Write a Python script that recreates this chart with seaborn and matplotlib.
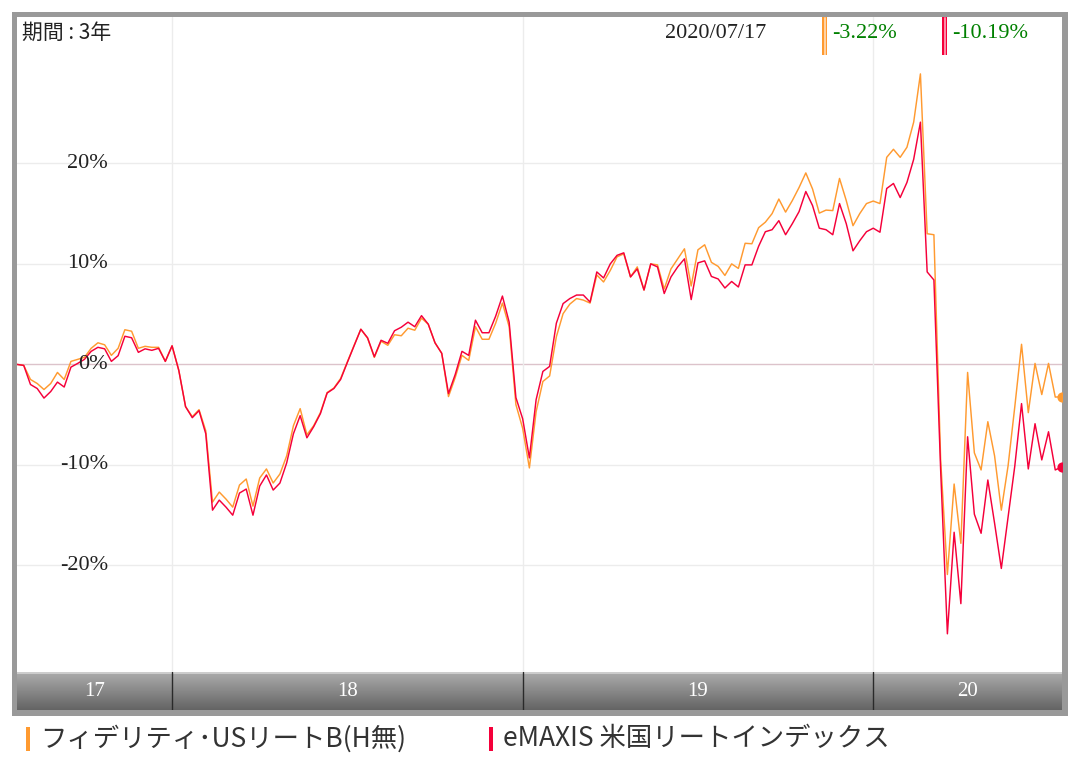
import numpy as np
import pandas as pd
import matplotlib
matplotlib.use("Agg")
import matplotlib.pyplot as plt
from matplotlib.patches import Rectangle
from matplotlib.lines import Line2D
from matplotlib.colors import LinearSegmentedColormap
from matplotlib.transforms import blended_transform_factory
import matplotlib.dates as mdates
import seaborn as sns

# ---------------- data ----------------
fidelity = [
    0.0, -0.1, -1.5, -1.9, -2.5, -1.9, -0.8, -1.5, 0.3, 0.5,
    0.7, 1.6, 2.15, 1.95, 0.9, 1.6, 3.45, 3.3, 1.6, 1.8,
    1.7, 1.7, 0.3, 1.85, -0.6, -4.2, -5.2, -4.5, -6.6, -13.7,
    -12.7, -13.4, -14.2, -12.0, -11.4, -14.1, -11.3, -10.4, -11.8, -10.9,
    -9.1, -6.1, -4.4, -7.0, -6.1, -4.8, -2.8, -2.35, -1.4, 0.25,
    1.9, 3.5, 2.6, 0.7, 2.3, 1.9, 2.95, 2.85, 3.6, 3.4,
    4.6, 4.0, 2.15, 1.1, -3.2, -1.3, 0.9, 0.4, 3.75, 2.5,
    2.5, 4.1, 6.1, 3.75, -4.0, -6.35, -10.3, -4.7, -1.7, -1.15,
    2.75, 5.05, 6.0, 6.55, 6.4, 6.1, 8.9, 8.2, 9.35, 10.7,
    11.0, 8.7, 9.7, 7.4, 10.0, 9.9, 7.5, 9.5, 10.5, 11.5,
    7.8, 11.4, 11.9, 10.15, 9.75, 8.85, 10.0, 9.55, 12.05, 12.0,
    13.6, 14.15, 15.0, 16.45, 15.15, 16.3, 17.6, 19.05, 17.45, 15.05,
    15.35, 15.3, 18.5, 16.3, 13.8, 15.0, 16.0, 16.25, 16.0, 20.6,
    21.4, 20.6, 21.6, 24.1, 28.9, 13.0, 12.9, -9.5, -20.9, -11.9,
    -17.8, -0.8, -8.8, -10.5, -5.7, -9.1, -14.5, -10.1, -4.2, 2.0,
    -4.8, 0.1, -3.0, 0.1, -3.25, -3.22,
]
emaxis = [
    0.0, -0.1, -2.0, -2.4, -3.35, -2.7, -1.76, -2.25, -0.27, 0.1,
    0.5, 1.3, 1.7, 1.55, 0.3, 0.87, 2.8, 2.65, 1.2, 1.55,
    1.4, 1.6, 0.3, 1.85, -0.6, -4.2, -5.3, -4.6, -6.9, -14.5,
    -13.5, -14.2, -15.0, -12.8, -12.4, -15.0, -12.1, -11.0, -12.5, -11.8,
    -9.8, -6.9, -5.1, -7.3, -6.2, -4.9, -2.85, -2.4, -1.5, 0.2,
    1.85, 3.5, 2.65, 0.76, 2.4, 2.1, 3.35, 3.7, 4.2, 3.75,
    4.85, 4.0, 2.15, 1.1, -2.9, -1.0, 1.3, 0.9, 4.4, 3.15,
    3.15, 4.8, 6.8, 4.2, -3.3, -5.4, -9.3, -3.5, -0.7, -0.2,
    4.1, 6.05, 6.55, 6.9, 6.9, 6.2, 9.2, 8.6, 10.0, 10.85,
    11.1, 8.7, 9.5, 7.4, 10.0, 9.7, 7.05, 8.7, 9.7, 10.5,
    6.45, 10.1, 10.3, 8.75, 8.5, 7.6, 8.25, 7.7, 9.9, 9.9,
    11.75, 13.2, 13.4, 14.3, 12.9, 14.0, 15.2, 17.2, 15.8, 13.55,
    13.4, 12.9, 16.0, 14.0, 11.3, 12.3, 13.2, 13.55, 13.15, 17.5,
    18.0, 16.6, 18.1, 20.4, 24.1, 9.2, 8.4, -10.5, -26.8, -16.7,
    -23.8, -7.2, -14.9, -16.8, -11.5, -15.8, -20.3, -15.2, -10.1, -3.9,
    -10.4, -5.9, -9.5, -6.7, -10.5, -10.19,
]
end_date = "2020-07-17"
series_names = ["フィデリティ･USリートB(H無)", "eMAXIS 米国リートインデックス"]
y_ticks = [-20, -10, 0, 10, 20]
y_labels = ["-20%", "-10%", "0%", "10%", "20%"]
period_label = "期間 : 3年"
date_label = "2020/07/17"
last_labels = ["-3.22%", "-10.19%"]

# ---------------- style ----------------
ORANGE = "#ff9a30"
RED = "#f5003a"
W, H = 1073, 766

sns.set_theme(style="white")
plt.rcParams["font.family"] = ["Noto Sans CJK JP", "DejaVu Sans"]
SERIF = ["Liberation Serif", "DejaVu Serif"]

n = len(emaxis)
dates = pd.date_range(end=end_date, periods=n, freq="7D")
df = pd.DataFrame({
    "date": list(dates) * 2,
    "value": fidelity + emaxis,
    "fund": [series_names[0]] * n + [series_names[1]] * n,
})


def fx(x):
    return x / W


def fy(y):
    return 1 - y / H


fig = plt.figure(figsize=(W / 100, H / 100), dpi=100)
fig.patch.set_facecolor("white")

# gray outer frame (behind everything)
fig.patches.append(Rectangle((fx(12), fy(716)), fx(1068) - fx(12), fy(12) - fy(716),
                             transform=fig.transFigure, facecolor="#999999",
                             edgecolor="none", zorder=-10))

# main plot axes
ax = fig.add_axes([fx(17), fy(672), fx(1062) - fx(17), fy(17) - fy(672)])
ax.set_zorder(1)
ax.set_facecolor("white")
for s in ax.spines.values():
    s.set_visible(False)

x0, x1 = mdates.date2num(dates[0]), mdates.date2num(dates[-1])
ax.set_xlim(dates[0], dates[-1])
ax.set_ylim(-30.6, 34.56)

# grid
for t in y_ticks:
    if t == 0:
        ax.axhline(t, color="#dcc3cb", lw=1.0, zorder=1)
    else:
        ax.axhline(t, color="#ececec", lw=1.0, zorder=1)

year_starts = [d for i, d in enumerate(dates) if i > 0 and d.year != dates[i - 1].year]
for d in year_starts:
    ax.axvline(d, color="#ececec", lw=1.0, zorder=1)

sns.lineplot(data=df, x="date", y="value", hue="fund", hue_order=series_names,
             palette=[ORANGE, RED], linewidth=1.05, ax=ax, legend=False, zorder=3)

# end dots
ax.scatter([dates[-1]], [fidelity[-1]], s=40, color=ORANGE, zorder=4)
ax.scatter([dates[-1]], [emaxis[-1]], s=40, color=RED, zorder=4)

ax.set_xticks([])
ax.set_yticks([])
ax.set_xlabel("")
ax.set_ylabel("")

# y labels inside
trans = blended_transform_factory(ax.transAxes, ax.transData)
for t, lab in zip(y_ticks, y_labels):
    ax.text((108 - 17) / 1045, t, lab, transform=trans, ha="right", va="center",
            fontsize=16, family=SERIF, color="#222222", zorder=5)

# ---------------- year band ----------------
bax = fig.add_axes([fx(17), fy(710), fx(1062) - fx(17), fy(672) - fy(710)])
bax.set_zorder(1)
bax.set_xlim(x0, x1)
bax.set_ylim(0, 1)
cmap = LinearSegmentedColormap.from_list("band", ["#646464", "#acacac"])
grad = np.linspace(0, 1, 64).reshape(-1, 1)
bax.imshow(grad, cmap=cmap, aspect="auto", extent=[x0, x1, 0, 1], origin="lower")
bax.axhline(0.985, color="#d4d4d4", lw=1.2)
for s in bax.spines.values():
    s.set_visible(False)
bax.set_xticks([])
bax.set_yticks([])
edges = [x0] + [mdates.date2num(d) for d in year_starts] + [x1]
for e in edges[1:-1]:
    bax.axvline(e, color="#2a2a2a", lw=1.0)
years = [dates[0].year] + [d.year for d in year_starts]
for a, b, yr in zip(edges[:-1], edges[1:], years):
    bax.text((a + b) / 2, 0.5, f"{yr % 100:02d}", ha="center", va="center",
             fontsize=15, family=SERIF, color="white")

# ---------------- top labels (over the plot) ----------------
top = fig.add_axes([0, 0, 1, 1], facecolor="none")
top.set_zorder(5)
top.set_xlim(0, W)
top.set_ylim(H, 0)
top.axis("off")

top.text(22, 33, period_label, ha="left", va="center", fontsize=15,
         color="#222222")
top.text(665, 34, date_label, ha="left", va="center", fontsize=16,
         family=SERIF, color="#222222")

for xm, col, lab, xt in [(822, ORANGE, last_labels[0], 832),
                         (942, RED, last_labels[1], 952)]:
    top.add_patch(Rectangle((xm, 17), 5, 38, facecolor=col, edgecolor="none"))
    for dx in (1.7, 3.3):
        top.add_line(Line2D([xm + dx, xm + dx], [17, 55], color="white",
                            lw=0.5, alpha=0.8))
    top.text(xt, 34, lab, ha="left", va="center", fontsize=16,
             family=SERIF, color="#008000")

# ---------------- bottom legend ----------------
for xb, col, name, xt in [(26, ORANGE, series_names[0], 40),
                          (489, RED, series_names[1], 503)]:
    top.add_patch(Rectangle((xb, 727), 3.5, 24, facecolor=col, edgecolor="none"))
    top.text(xt, 739, name, ha="left", va="center", fontsize=19,
             color="#333333")

fig.savefig("out.png", dpi=100)
